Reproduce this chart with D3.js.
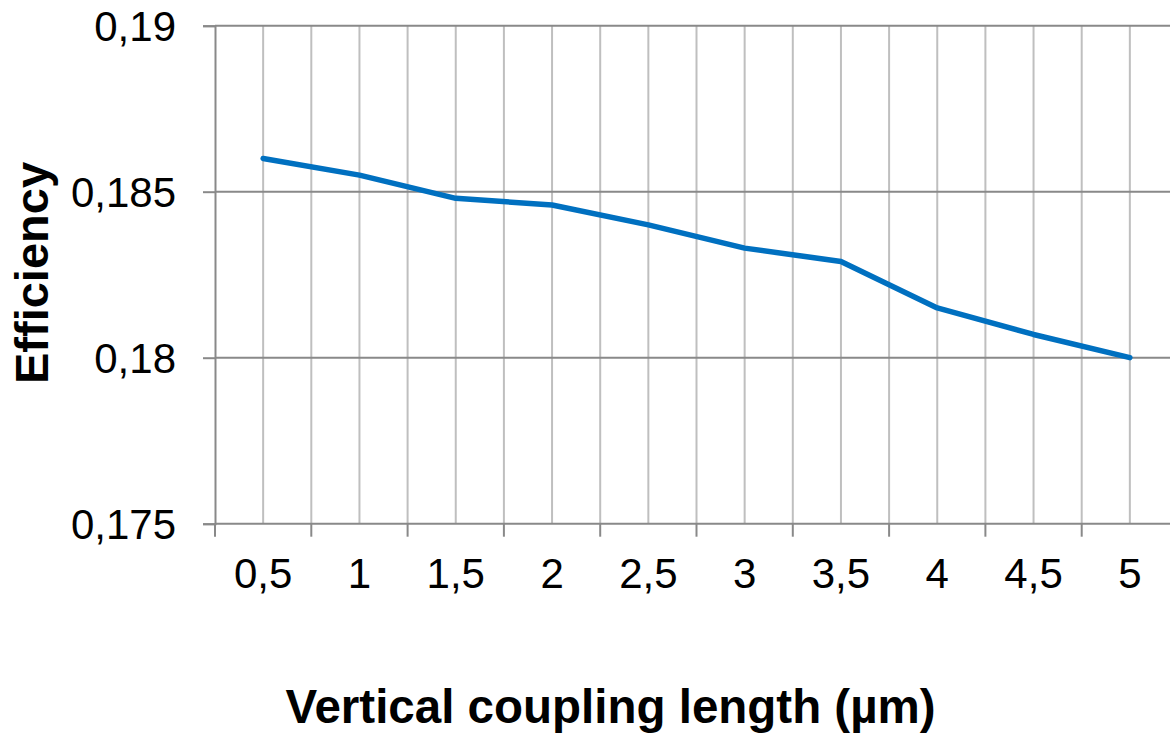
<!DOCTYPE html>
<html>
<head>
<meta charset="utf-8">
<script src="https://cdn.jsdelivr.net/npm/d3@7"></script>
<style>
  html, body { margin: 0; padding: 0; background: #fff; }
  svg { display: block; font-family: "Liberation Sans", Arial, sans-serif; }
</style>
</head>
<body>
<svg id="chart" width="1170" height="736"></svg>
<script>
// Coupling length categories (µm) and simulated efficiency
const categories = ["0,5", "1", "1,5", "2", "2,5", "3", "3,5", "4", "4,5", "5"];
const efficiency = [0.1860, 0.1855, 0.1848, 0.1846, 0.1840, 0.1833, 0.1829, 0.1815, 0.1807, 0.1800];
const yTicks = [0.175, 0.18, 0.185, 0.19];
const yTickLabels = ["0,175", "0,18", "0,185", "0,19"];

const svg = d3.select("#chart");
const plotLeft = 215, plotRight = 1178, plotTop = 25.7, plotBottom = 523.7;

const x = d3.scaleBand().domain(categories).range([plotLeft, plotRight]).padding(0);
const y = d3.scaleLinear().domain([0.175, 0.19]).range([plotBottom, plotTop]);

// vertical gridlines: at category boundaries and at category centres
const grid = svg.append("g");
categories.forEach(c => {
  [x(c), x(c) + x.bandwidth() / 2].forEach(gxPos => {
    if (gxPos <= plotLeft + 0.5) return;
    grid.append("line")
      .attr("x1", gxPos).attr("x2", gxPos)
      .attr("y1", plotTop).attr("y2", plotBottom)
      .attr("stroke", "#bfbfbf").attr("stroke-width", 2);
  });
});

// horizontal gridlines
grid.selectAll("line.h").data(yTicks.slice(1)).join("line")
  .attr("class", "h")
  .attr("x1", plotLeft).attr("x2", plotRight)
  .attr("y1", d => y(d)).attr("y2", d => y(d))
  .attr("stroke", "#898989").attr("stroke-width", 2);

// y axis
const yAxis = d3.axisLeft(y)
  .tickValues(yTicks)
  .tickFormat((d, i) => yTickLabels[i])
  .tickSize(12)
  .tickPadding(27);
const gy = svg.append("g").attr("transform", `translate(${plotLeft},0)`).call(yAxis);
gy.select(".domain").attr("stroke", "#898989").attr("stroke-width", 2);
gy.selectAll(".tick line").attr("stroke", "#898989").attr("stroke-width", 2);
gy.selectAll(".tick text")
  .attr("font-family", "Liberation Sans, Arial, sans-serif")
  .attr("font-size", 42).attr("fill", "#000")
  .attr("dy", "0.36em");

// x axis: labels centred in each category, tick marks at boundaries
const xAxis = d3.axisBottom(x).tickSize(0).tickPadding(0);
const gx = svg.append("g").attr("transform", `translate(0,${plotBottom})`).call(xAxis);
gx.select(".domain").remove();
gx.append("line").attr("x1", plotLeft).attr("x2", plotRight).attr("y1", 0).attr("y2", 0)
  .attr("stroke", "#898989").attr("stroke-width", 2);
gx.selectAll("line.bt").data(categories).join("line")
  .attr("class", "bt")
  .attr("x1", d => x(d)).attr("x2", d => x(d))
  .attr("y1", 0).attr("y2", 13)
  .attr("stroke", "#898989").attr("stroke-width", 2);
gx.selectAll(".tick text")
  .attr("font-family", "Liberation Sans, Arial, sans-serif")
  .attr("font-size", 42).attr("fill", "#000")
  .attr("y", 64.5).attr("dy", 0);

// data line
const line = d3.line()
  .x((d, i) => x(categories[i]) + x.bandwidth() / 2)
  .y(d => y(d));
svg.append("path")
  .datum(efficiency)
  .attr("d", line)
  .attr("fill", "none")
  .attr("stroke", "#0070c0")
  .attr("stroke-width", 5.5)
  .attr("stroke-linejoin", "round")
  .attr("stroke-linecap", "round");

// axis titles
svg.append("text")
  .attr("x", 610.5).attr("y", 723)
  .attr("text-anchor", "middle")
  .attr("font-size", 47.5).attr("font-weight", "bold")
  .text("Vertical coupling length (µm)");

svg.append("text")
  .attr("transform", "translate(48,273) rotate(-90)")
  .attr("text-anchor", "middle")
  .attr("font-size", 47).attr("font-weight", "bold")
  .text("Efficiency");
</script>
</body>
</html>
